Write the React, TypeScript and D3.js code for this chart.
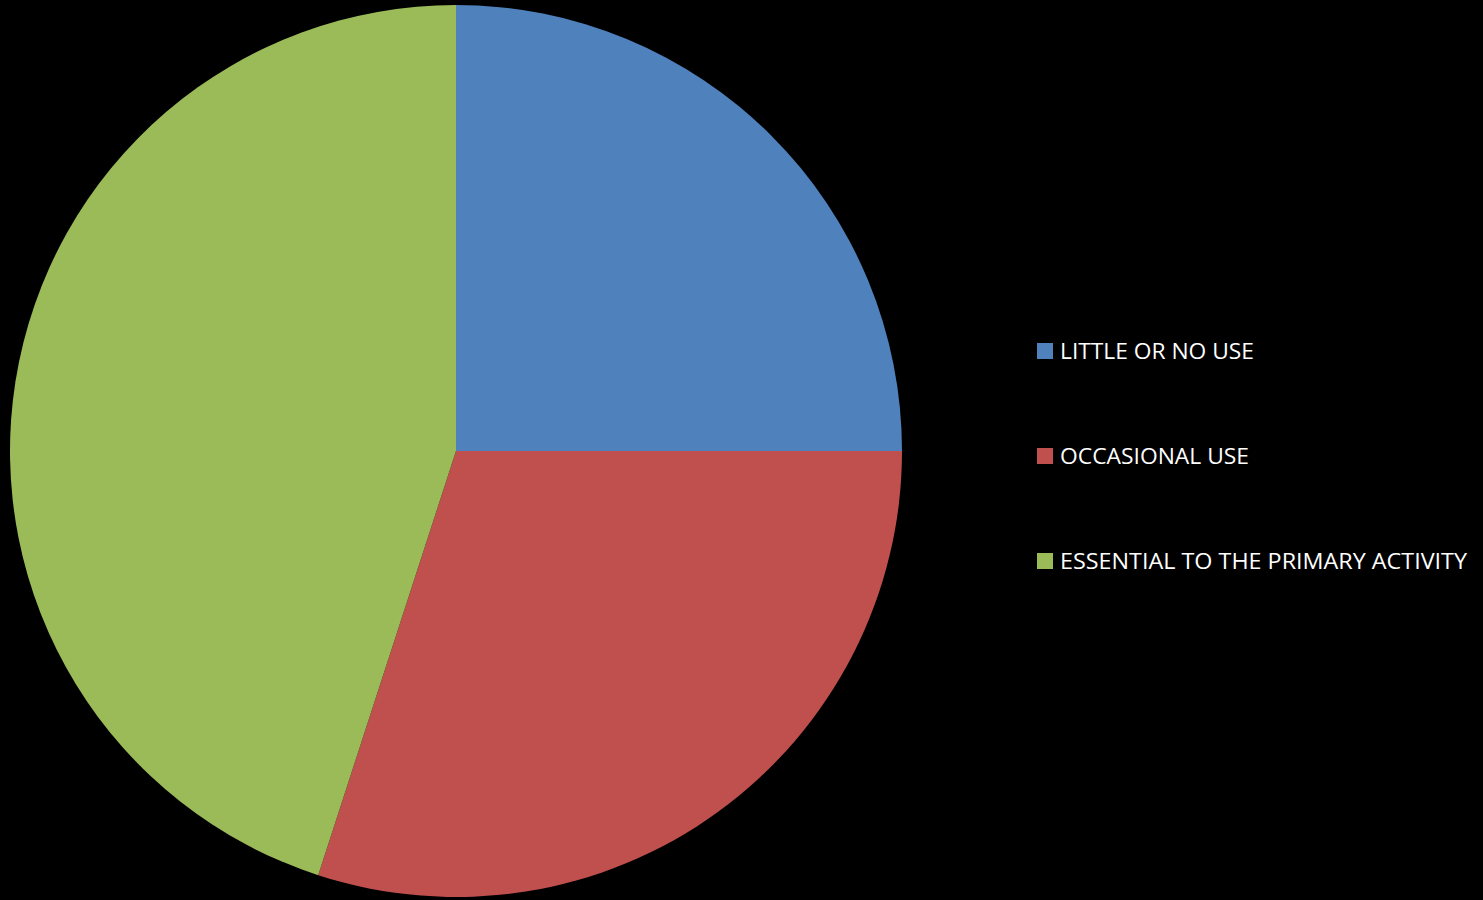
import React from "react";
import * as d3 from "d3";

const categories = ["LITTLE OR NO USE", "OCCASIONAL USE", "ESSENTIAL TO THE PRIMARY ACTIVITY"];
const values = [25, 30, 45];
const colors = ["#4F81BD", "#C0504D", "#9BBB59"];
const legendWidths = [194, 189, 407];

const W = 1483;
const H = 900;
const cx = 456;
const cy = 451;
const R = 446;

export default function App() {
  const pie = d3.pie<number>().sort(null).value((d) => d)(values);
  const arc = d3.arc<d3.PieArcDatum<number>>().innerRadius(0).outerRadius(R);
  const legendX = 1037;
  const legendY0 = 343;
  const legendStep = 105;
  return (
    <div style={{ position: "fixed", left: 0, top: 0, width: W, height: H, background: "#000" }}>
      <svg width={W} height={H} style={{ display: "block" }}>
        <rect x={0} y={0} width={W} height={H} fill="#000" />
        <g transform={`translate(${cx},${cy})`}>
          {pie.map((p, i) => (
            <path key={i} d={arc(p) || ""} fill={colors[i]} />
          ))}
        </g>
        {categories.map((c, i) => (
          <g key={c} transform={`translate(${legendX},${legendY0 + i * legendStep})`}>
            <rect x={0} y={0} width={16} height={16} fill={colors[i]} />
            <text
              x={23}
              y={16}
              fill="#fff"
              fontFamily="'Open Sans', sans-serif"
              fontSize={22}
              textLength={legendWidths[i]}
              lengthAdjust="spacingAndGlyphs"
            >
              {c}
            </text>
          </g>
        ))}
      </svg>
    </div>
  );
}
